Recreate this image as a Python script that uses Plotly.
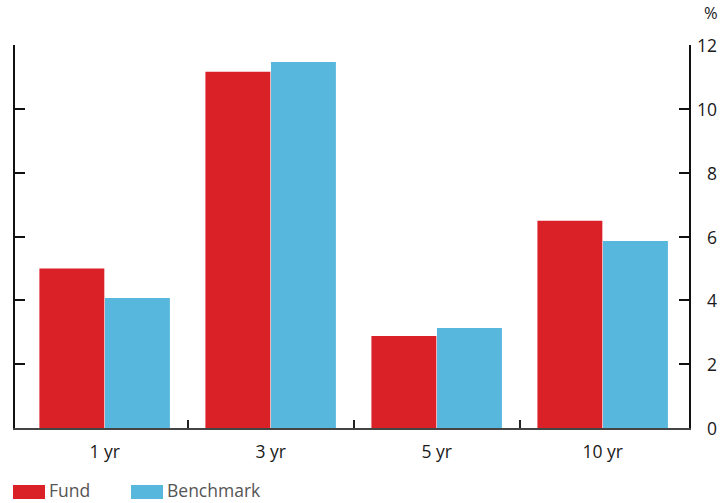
import plotly.graph_objects as go

categories = ["1 yr", "3 yr", "5 yr", "10 yr"]
fund = [5.0, 11.16, 2.88, 6.49]
benchmark = [4.07, 11.47, 3.13, 5.86]
series_names = ["Fund", "Benchmark"]
y_ticks = [0, 2, 4, 6, 8, 10, 12]
divider_ticks = [0.5, 1.5, 2.5]

RED = "#DA2128"
BLUE = "#57B7DD"
FONT = "Open Sans"
TEXT = "#1a1a1a"
X_RANGE = [-0.54, 3.52]
LABEL_SIZE = 17.5

fig = go.Figure()
fig.add_trace(go.Bar(x=categories, y=fund, name=series_names[0],
                     marker=dict(color=RED, line=dict(width=0))))
fig.add_trace(go.Bar(x=categories, y=benchmark, name=series_names[1],
                     marker=dict(color=BLUE, line=dict(width=0))))
# empty trace that attaches the divider-tick axis
fig.add_trace(go.Scatter(x=[], y=[], xaxis="x2", yaxis="y",
                         hoverinfo="skip", showlegend=False))

fig.update_layout(
    width=722, height=503,
    margin=dict(l=15, r=33, t=45, b=75),
    paper_bgcolor="white", plot_bgcolor="white",
    barmode="group", bargap=0.21, bargroupgap=0.01,
    showlegend=False,
    font=dict(family=FONT, size=LABEL_SIZE, color=TEXT),
    xaxis=dict(
        range=X_RANGE, showgrid=False, showline=True, linecolor="#444444",
        linewidth=1.5, ticks="", ticklabelstandoff=7,
        tickfont=dict(size=LABEL_SIZE, color=TEXT),
    ),
    xaxis2=dict(
        overlaying="x", range=X_RANGE, tickvals=divider_ticks,
        showticklabels=False, showgrid=False, showline=False,
        zeroline=False, ticks="inside", ticklen=8, tickwidth=2,
        tickcolor="#222222",
    ),
    yaxis=dict(
        side="right", range=[0, 12], tickvals=y_ticks, showticklabels=False,
        showgrid=False, zeroline=False, showline=True, linecolor="#111111",
        linewidth=2, mirror="ticks", ticks="inside", ticklen=10, tickwidth=2,
        tickcolor="#111111",
    ),
)

# right-aligned value labels beside the right axis
for v in y_ticks:
    fig.add_annotation(text=str(v), xref="paper", yref="y", x=1.0, y=v,
                       xshift=30, showarrow=False, xanchor="right",
                       yanchor="middle", font=dict(size=LABEL_SIZE, color=TEXT))

# "%" unit label above the value axis
fig.add_annotation(text="%", xref="paper", yref="paper", x=1.0, y=1.0,
                   xshift=31, yshift=19, showarrow=False, xanchor="right",
                   yanchor="bottom", font=dict(size=16.5, color=TEXT))

# Legend drawn as wide swatches with labels along the bottom
legend_items = [(series_names[0], RED, -2), (series_names[1], BLUE, 116)]
for name, color, offset in legend_items:
    x0 = offset / 674
    fig.add_shape(type="rect", xref="paper", yref="paper",
                  x0=x0, x1=x0 + 32 / 674, y0=-71 / 383, y1=-57 / 383,
                  fillcolor=color, line=dict(width=0))
    fig.add_annotation(text=name, xref="paper", yref="paper",
                       x=x0 + 35 / 674, y=-62 / 383, showarrow=False,
                       xanchor="left", yanchor="middle", borderpad=0,
                       font=dict(size=17.5, color="#555555"))

fig.write_html("out.html")
